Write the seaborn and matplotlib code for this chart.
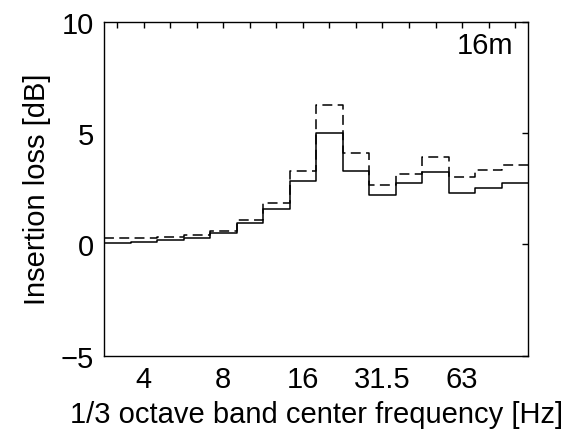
import numpy as np
import pandas as pd
import matplotlib
matplotlib.use('Agg')
import matplotlib.pyplot as plt
import seaborn as sns

# 1/3 옥타브 밴드 (3.15 Hz ~ 100 Hz)
bands = ['3.15', '4', '5', '6.3', '8', '10', '12.5', '16',
         '20', '25', '31.5', '40', '50', '63', '80', '100']
shown_labels = ['4', '8', '16', '31.5', '63']

# 삽입 손실 [dB]
il_solid = [0.05, 0.09, 0.20, 0.30, 0.51, 0.96, 1.59, 2.86,
            5.00, 3.31, 2.23, 2.74, 3.25, 2.31, 2.53, 2.74]
il_dashed = [0.27, 0.29, 0.33, 0.42, 0.60, 1.11, 1.85, 3.31,
             6.26, 4.12, 2.68, 3.16, 3.91, 3.03, 3.35, 3.58]

df = pd.DataFrame({'band': np.arange(len(bands)),
                   'solid': il_solid, 'dashed': il_dashed})

sns.set_style('white')
plt.rcParams['font.family'] = ['Liberation Sans', 'DejaVu Sans']
plt.rcParams['axes.unicode_minus'] = True
plt.rcParams['text.color'] = 'k'
plt.rcParams['axes.labelcolor'] = 'k'

fig = plt.figure(figsize=(5.67, 4.35), dpi=100)
ax = fig.add_axes([0.1834, 0.180, 0.7484, 0.7678])

sns.histplot(data=df, x='band', weights='solid', discrete=True,
             element='step', fill=False, color='k', lw=1.1, ax=ax)
sns.histplot(data=df, x='band', weights='dashed', discrete=True,
             element='step', fill=False, color='k', lw=1.1,
             dashes=(6.5, 3.5), ax=ax)

ax.set_xlim(-0.5, len(bands) - 0.5)
ax.set_ylim(-5, 10)
ax.set_xticks(df['band'])
ax.set_xticklabels([b if b in shown_labels else '' for b in bands])
ax.set_yticks([-5, 0, 5, 10])
ax.set_yticklabels(['\u22125', '0', '5', '10'])

ax.tick_params(direction='in', top=True, right=True, length=4, width=1,
               color='k', labelsize=21, labelcolor='k', pad=7)
for s in ax.spines.values():
    s.set_color('k')
    s.set_linewidth(1.0)

ax.set_xlabel('1/3 octave band center frequency [Hz]', fontsize=21, labelpad=5)
ax.set_ylabel('Insertion loss [dB]', fontsize=21, labelpad=7)
ax.text(0.965, 0.93, '16m', transform=ax.transAxes, ha='right', va='center',
        fontsize=21)

fig.savefig('out.png', dpi=100)
